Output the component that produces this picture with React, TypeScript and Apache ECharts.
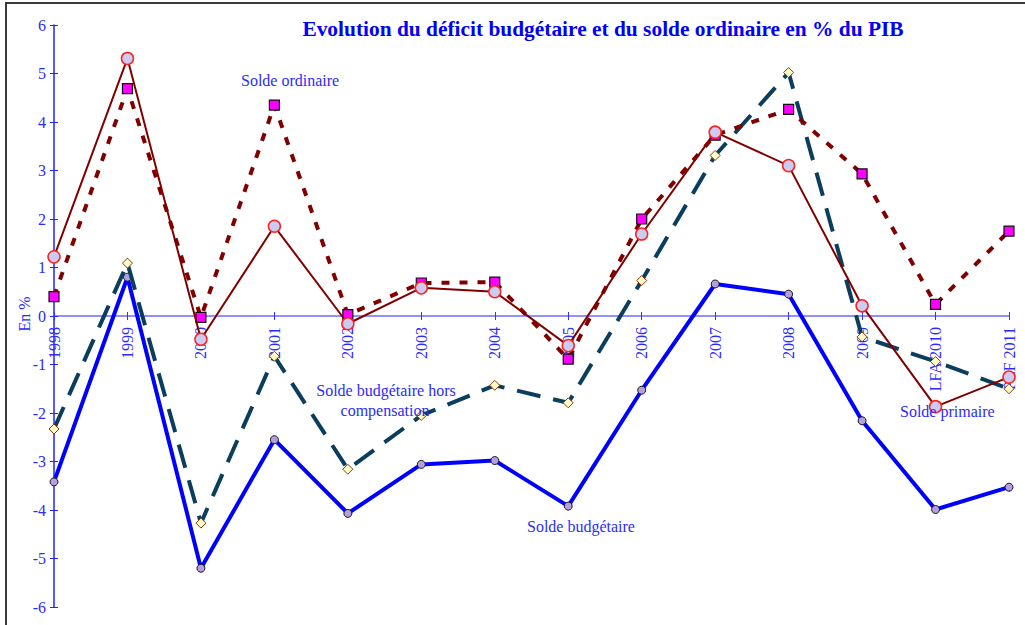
import React, { useEffect, useRef } from "react";
import * as echarts from "echarts";

const categories = ["1998", "1999", "2000", "2001", "2002", "2003", "2004", "2005", "2006", "2007", "2008", "2009", "LFA 2010", "PLF 2011"];
const soldeBudgetaire = [-3.42, 0.8, -5.2, -2.55, -4.07, -3.06, -2.98, -3.92, -1.53, 0.66, 0.45, -2.16, -3.99, -3.53];
const soldeHorsCompensation = [-2.33, 1.09, -4.27, -0.83, -3.16, -2.05, -1.43, -1.79, 0.73, 3.31, 5.02, -0.43, -0.94, -1.5];
const soldeOrdinaire = [0.4, 4.69, -0.03, 4.35, 0.03, 0.68, 0.7, -0.89, 2.0, 3.73, 4.26, 2.93, 0.24, 1.75];
const soldePrimaire = [1.22, 5.31, -0.48, 1.85, -0.16, 0.58, 0.5, -0.61, 1.69, 3.79, 3.1, 0.21, -1.87, -1.26];

const TITLE = "Evolution du déficit budgétaire et du solde ordinaire en % du PIB";
const FONT = "'Liberation Serif', 'Times New Roman', serif";
const BLUE_TXT = "#2b2bff";

// grid geometry
const GRID_TOP = 25;
const GRID_BOTTOM = 18;
const CHART_H = 625;
const Y_MIN = -6;
const Y_MAX = 6;

export default function App() {
  const ref = useRef<HTMLDivElement>(null);
  useEffect(() => {
    const chart = echarts.init(ref.current!, null, { renderer: "svg" });
    const plotH = CHART_H - GRID_TOP - GRID_BOTTOM;
    // distance from grid bottom up to the zero line
    const zeroOffset = -(plotH * (0 - Y_MIN)) / (Y_MAX - Y_MIN);
    const lbl = (text: string, x: number, y: number, align = "left") => ({
      type: "text",
      x,
      y,
      style: { text, fill: BLUE_TXT, font: `16px ${FONT}`, textAlign: align, textVerticalAlign: "middle" },
      z: 10,
    });
    chart.setOption({
      animation: false,
      backgroundColor: "#ffffff",
      textStyle: { fontFamily: FONT },
      title: {
        text: TITLE,
        left: 598,
        top: 13,
        textAlign: "center",
        textStyle: { fontFamily: FONT, fontSize: 21.4, fontWeight: "bold", color: "#0000ff" },
      },
      grid: { left: 54, right: 16, top: GRID_TOP, bottom: GRID_BOTTOM, containLabel: false, outerBoundsMode: "none" },
      xAxis: [
        {
          type: "category",
          data: categories,
          boundaryGap: false,
          position: "bottom",
          offset: zeroOffset,
          axisLine: { onZero: false, lineStyle: { color: "#6b6bff", width: 1.5 } },
          axisTick: { show: true, length: 4, lineStyle: { color: "#3333ff" } },
          axisLabel: { rotate: 90, margin: 11, color: BLUE_TXT, fontSize: 16, fontFamily: FONT },
          splitLine: { show: false },
        },
        {
          type: "category",
          data: categories,
          boundaryGap: false,
          position: "bottom",
          offset: zeroOffset,
          axisLine: { onZero: false, show: false },
          axisTick: { show: true, inside: true, length: 4, lineStyle: { color: "#3333ff" } },
          axisLabel: { show: false },
          splitLine: { show: false },
        },
      ],
      yAxis: [
        {
          type: "value",
          min: Y_MIN,
          max: Y_MAX,
          interval: 1,
          axisLine: { show: true, onZero: false, lineStyle: { color: "#2222ff", width: 1.5 } },
          axisTick: { show: true, length: 4, lineStyle: { color: "#2222ff" } },
          axisLabel: { margin: 8, color: BLUE_TXT, fontSize: 16, fontFamily: FONT },
          splitLine: { show: false },
        },
        {
          type: "value",
          min: Y_MIN,
          max: Y_MAX,
          interval: 1,
          position: "left",
          axisLine: { show: false, onZero: false },
          axisTick: { show: true, inside: true, length: 4, lineStyle: { color: "#2222ff" } },
          axisLabel: { show: false },
          splitLine: { show: false },
        },
      ],
      series: [
        {
          name: "Solde budgétaire",
          type: "line",
          data: soldeBudgetaire,
          symbol: "circle",
          symbolSize: 8,
          lineStyle: { color: "#0000ff", width: 4 },
          itemStyle: { color: "#b49ee0", borderColor: "#1a1a1a", borderWidth: 1 },
          z: 2,
        },
        {
          name: "Solde budgétaire hors compensation",
          type: "line",
          data: soldeHorsCompensation,
          symbol: "diamond",
          symbolSize: 10,
          lineStyle: { color: "#0b3d5c", width: 4, type: [24, 13] },
          itemStyle: { color: "#ffffcc", borderColor: "#993300", borderWidth: 1 },
          z: 3,
        },
        {
          name: "Solde ordinaire",
          type: "line",
          data: soldeOrdinaire,
          symbol: "rect",
          symbolSize: 10,
          lineStyle: { color: "#800000", width: 4, type: [8, 10] },
          itemStyle: { color: "#ff00ff", borderColor: "#111111", borderWidth: 1.2 },
          z: 4,
        },
        {
          name: "Solde primaire",
          type: "line",
          data: soldePrimaire,
          symbol: "circle",
          symbolSize: 12,
          lineStyle: { color: "#800000", width: 2 },
          itemStyle: { color: "#ccccf2", borderColor: "#ff2020", borderWidth: 1.5 },
          z: 5,
        },
      ],
      graphic: [
        {
          type: "rect",
          shape: { x: 6, y: 3, width: 1030, height: 640 },
          style: { fill: "none", stroke: "#3a3a3a", lineWidth: 2 },
          silent: true,
        },
        {
          type: "text",
          x: 24,
          y: 314,
          rotation: Math.PI / 2,
          style: { text: "En %", fill: BLUE_TXT, font: `16px ${FONT}`, textAlign: "center", textVerticalAlign: "middle" },
        },
        lbl("Solde ordinaire", 241, 80),
        lbl("Solde budgétaire hors", 386, 390, "center"),
        lbl("compensation", 385, 410, "center"),
        lbl("Solde budgétaire", 527, 526),
        lbl("Solde primaire", 900, 411),
      ],
    });
    return () => chart.dispose();
  }, []);
  return <div ref={ref} style={{ position: "fixed", left: 0, top: 0, width: 1025, height: 625 }} />;
}
